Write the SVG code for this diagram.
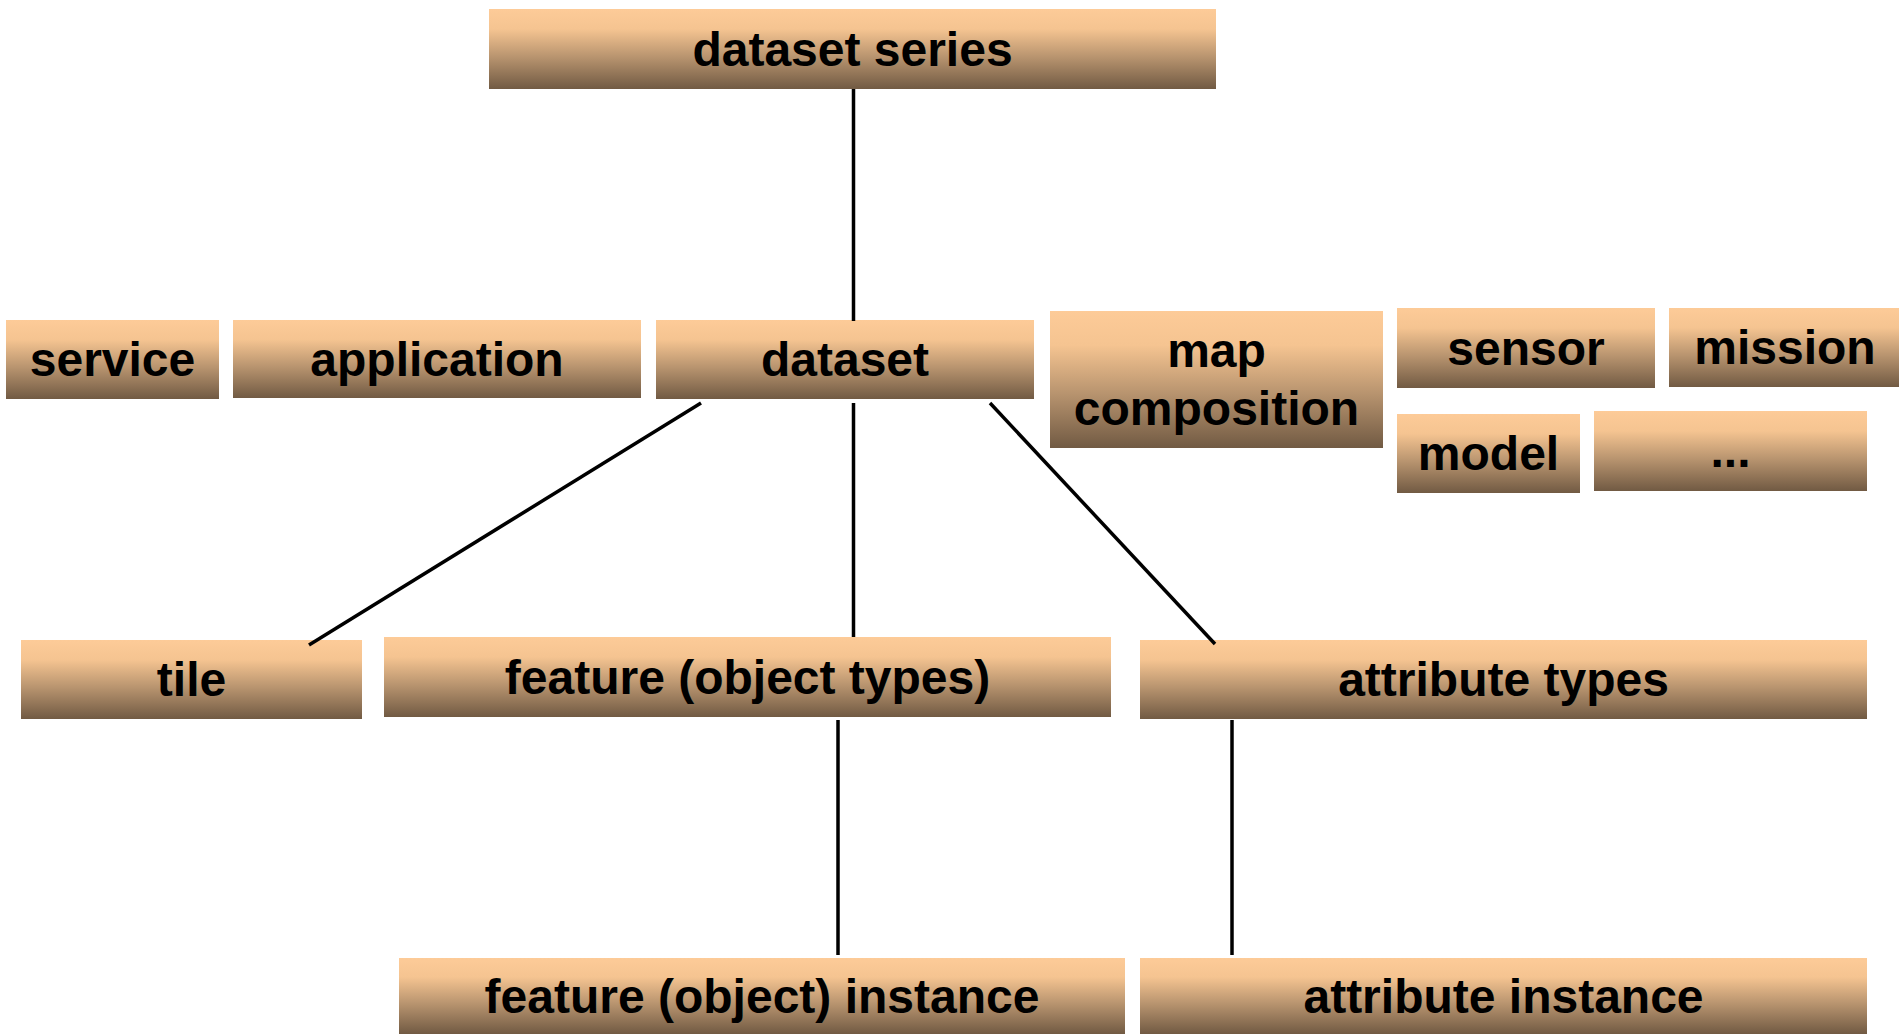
<svg xmlns="http://www.w3.org/2000/svg" width="1899" height="1034" viewBox="0 0 1899 1034">
<defs>
<linearGradient id="g" x1="0" y1="0" x2="0" y2="1">
<stop offset="0" stop-color="#FDCB98"/>
<stop offset="0.25" stop-color="#F5C491"/>
<stop offset="0.6" stop-color="#B8946F"/>
<stop offset="1" stop-color="#715A43"/>
</linearGradient>
</defs>
<style>
.box{fill:url(#g);stroke:none}
.lbl{font-family:"Liberation Sans",Arial,sans-serif;font-weight:bold;font-size:48px;fill:#000;text-anchor:middle}
.conn line{stroke:#000;stroke-width:3.5;fill:none}
</style>
<rect width="1899" height="1034" fill="#fff"/>
<g id="n-dataset-series"><rect class="box" x="489" y="9" width="727" height="80"/><text class="lbl" x="852.5" y="66">dataset series</text></g>
<g id="n-service"><rect class="box" x="6" y="320" width="213" height="79"/><text class="lbl" x="112.5" y="376">service</text></g>
<g id="n-application"><rect class="box" x="233" y="320" width="408" height="78"/><text class="lbl" x="437" y="376">application</text></g>
<g id="n-dataset"><rect class="box" x="656" y="320" width="378" height="79"/><text class="lbl" x="845" y="376">dataset</text></g>
<g id="n-map-composition"><rect class="box" x="1050" y="311" width="333" height="137"/><text class="lbl" x="1216.5" y="367">map</text><text class="lbl" x="1216.5" y="425">composition</text></g>
<g id="n-sensor"><rect class="box" x="1397" y="308" width="258" height="80"/><text class="lbl" x="1526" y="365">sensor</text></g>
<g id="n-mission"><rect class="box" x="1669" y="308" width="230" height="79"/><text class="lbl" x="1785" y="364">mission</text></g>
<g id="n-model"><rect class="box" x="1397" y="414" width="183" height="79"/><text class="lbl" x="1488.5" y="470">model</text></g>
<g id="n-more"><rect class="box" x="1594" y="411" width="273" height="80"/><text class="lbl" x="1730.5" y="467">...</text></g>
<g id="n-tile"><rect class="box" x="21" y="640" width="341" height="79"/><text class="lbl" x="191.5" y="696">tile</text></g>
<g id="n-feature-types"><rect class="box" x="384" y="637" width="727" height="80"/><text class="lbl" x="747.5" y="694">feature (object types)</text></g>
<g id="n-attribute-types"><rect class="box" x="1140" y="640" width="727" height="79"/><text class="lbl" x="1503.5" y="696">attribute types</text></g>
<g id="n-feature-instance"><rect class="box" x="399" y="958" width="726" height="76"/><text class="lbl" x="762" y="1013">feature (object) instance</text></g>
<g id="n-attribute-instance"><rect class="box" x="1140" y="958" width="727" height="76"/><text class="lbl" x="1503.5" y="1013">attribute instance</text></g>
<g class="conn" id="connectors">
<line x1="853.5" y1="89" x2="853.5" y2="321"/>
<line x1="701" y1="403" x2="309" y2="645"/>
<line x1="853.5" y1="403" x2="853.5" y2="637"/>
<line x1="990" y1="403" x2="1215" y2="644"/>
<line x1="838" y1="720" x2="838" y2="955"/>
<line x1="1232" y1="720" x2="1232" y2="955"/>
</g>
</svg>
